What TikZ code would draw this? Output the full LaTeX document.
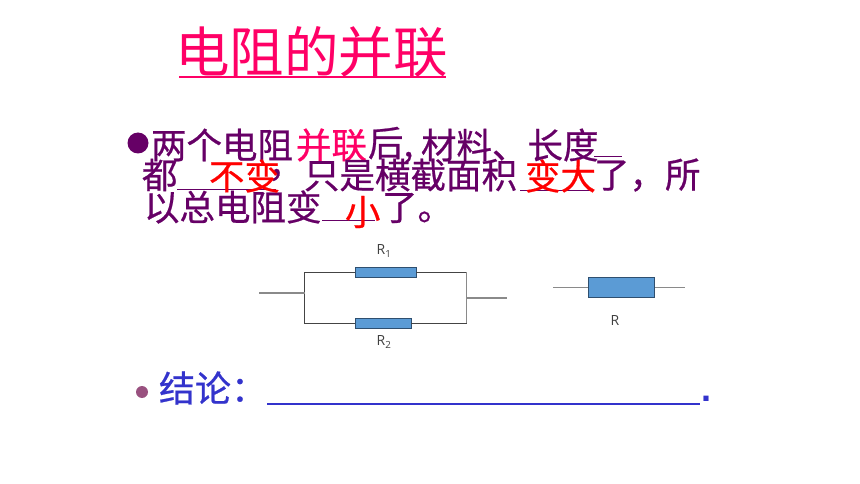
\documentclass[tikz,border=0pt]{standalone}
\usepackage{fontspec}
\setmainfont{Liberation Sans}
\newfontfamily\cjk{Noto Sans CJK SC}[FakeBold=0.6]
\newfontfamily\cjktitle{Noto Sans CJK SC}
\newfontfamily\lab{Open Sans}
\definecolor{tpink}{HTML}{FF0066}
\definecolor{tpurple}{HTML}{660066}
\definecolor{tblue}{HTML}{3333CC}
\definecolor{tbul}{HTML}{99517F}
\definecolor{rfill}{HTML}{5B9BD5}
\definecolor{rline}{HTML}{2F4F6F}
\definecolor{wire}{HTML}{444444}
\definecolor{wireb}{HTML}{8A8A8A}
\tikzset{
  x=1pt,y=-1pt,
  txt/.style={inner sep=0pt,outer sep=0pt,anchor=west,font=\cjk\fontsize{35.5}{35.5}\selectfont,text=tpurple},
  red/.style={txt,text=red},
  res/.style={draw=rline,fill=rfill,line width=0.9pt,inner sep=0pt,minimum height=#1},
  wirea/.style={draw=wire,line width=0.9pt},
  wireg/.style={draw=wireb,line width=1.3pt},
  rlab/.style={inner sep=0pt,font=\lab\fontsize{14}{14}\selectfont,text=black!75},
  blank/.style={draw=tpurple,line width=1pt}
}
\begin{document}
\begin{tikzpicture}
\useasboundingbox (0,0) rectangle (860,484);
% title
\node[txt,font=\cjktitle\fontsize{54.5}{54.5}\selectfont,text=tpink] (title) at (175,52) {电阻的并联};
\coordinate (tul) at (179,77); \coordinate (tur) at (446,77);
\draw[tpink,line width=1.6pt] (tul) -- (tur);
% body
\node[circle,fill=tpurple,minimum size=21pt,inner sep=0pt] (b1) at (138,143) {};
\node[txt] (l1a) at (151,145) {两个电阻};
\node[txt,text=tpink] (l1b) at (296,145) {并联};
\node[txt] (l1c) at (368,145) {后,};
\node[txt] (l1d) at (421,145) {材料、长度};
\node[txt] (l2a) at (142,175) {都};
\node[txt] (l2comma) at (268,175) {，};
\node[txt] (l2b) at (304,175) {只是横截面积};
\node[txt] (l2c) at (594,175) {了，所};
\node[txt] (l3a) at (144,207) {以总电阻变};
\node[txt] (l3b) at (382,208) {了。};
% blanks
\coordinate (u1a) at (177,190); \coordinate (u1b) at (276,190);
\coordinate (u2a) at (520,191); \coordinate (u2b) at (593,191);
\coordinate (u3a) at (322,220); \coordinate (u3b) at (375,220);
\coordinate (u4a) at (594,157); \coordinate (u4b) at (622,157);
\draw[blank] (u1a) -- (u1b); \draw[blank] (u2a) -- (u2b); \draw[blank] (u3a) -- (u3b); \draw[blank] (u4a) -- (u4b);
\node[red] (a1) at (209,176) {不变};
\node[red] (a2) at (525,176) {变大};
\node[red] (a3) at (345,212) {小};
% circuit
\node[res=10pt,minimum width=61pt] (R1) at (385.5,272) {};
\node[res=10pt,minimum width=56pt] (R2) at (383,323) {};
\coordinate (tl) at (304.5,272); \coordinate (bl) at (304.5,323);
\coordinate (tr) at (466.5,272); \coordinate (br) at (466.5,323);
\coordinate (ml) at (304.5,293); \coordinate (mr) at (466.5,298);
\coordinate (el) at (259,293); \coordinate (er) at (507,298);
\draw[wirea] (R1.west) -- (tl) -- (bl) -- (R2.west);
\draw[wirea] (R1.east) -- (tr);
\draw[wirea] (R2.east) -- (br);
\draw[wireg] (tr) -- (br);
\draw[wireg] (el) -- (ml);
\draw[wireg] (mr) -- (er);
\node[rlab] (lr1) at (384,251) {R\textsubscript{1}};
\node[rlab] (lr2) at (384,342) {R\textsubscript{2}};
\node[res=20pt,minimum width=66pt] (R) at (621.5,287.5) {};
\coordinate (sl) at (553,287.5); \coordinate (sr) at (685,287.5);
\draw[wireg] (sl) -- (R.west);
\draw[wireg] (R.east) -- (sr);
\node[rlab] (lr) at (615,321) {R};
% conclusion
\node[circle,fill=tbul,minimum size=12pt,inner sep=0pt] (b2) at (142,392) {};
\node[txt,font=\cjk\fontsize{36}{36}\selectfont,text=tblue] (con) at (159,388) {结论：};
\coordinate (ca) at (267,404); \coordinate (cb) at (700,404);
\draw[tblue,line width=1.6pt] (ca) -- (cb);
\node[txt,font=\fontsize{36}{36}\bfseries\selectfont,text=tblue] (dot) at (701,399) {.};
\end{tikzpicture}
\end{document}
